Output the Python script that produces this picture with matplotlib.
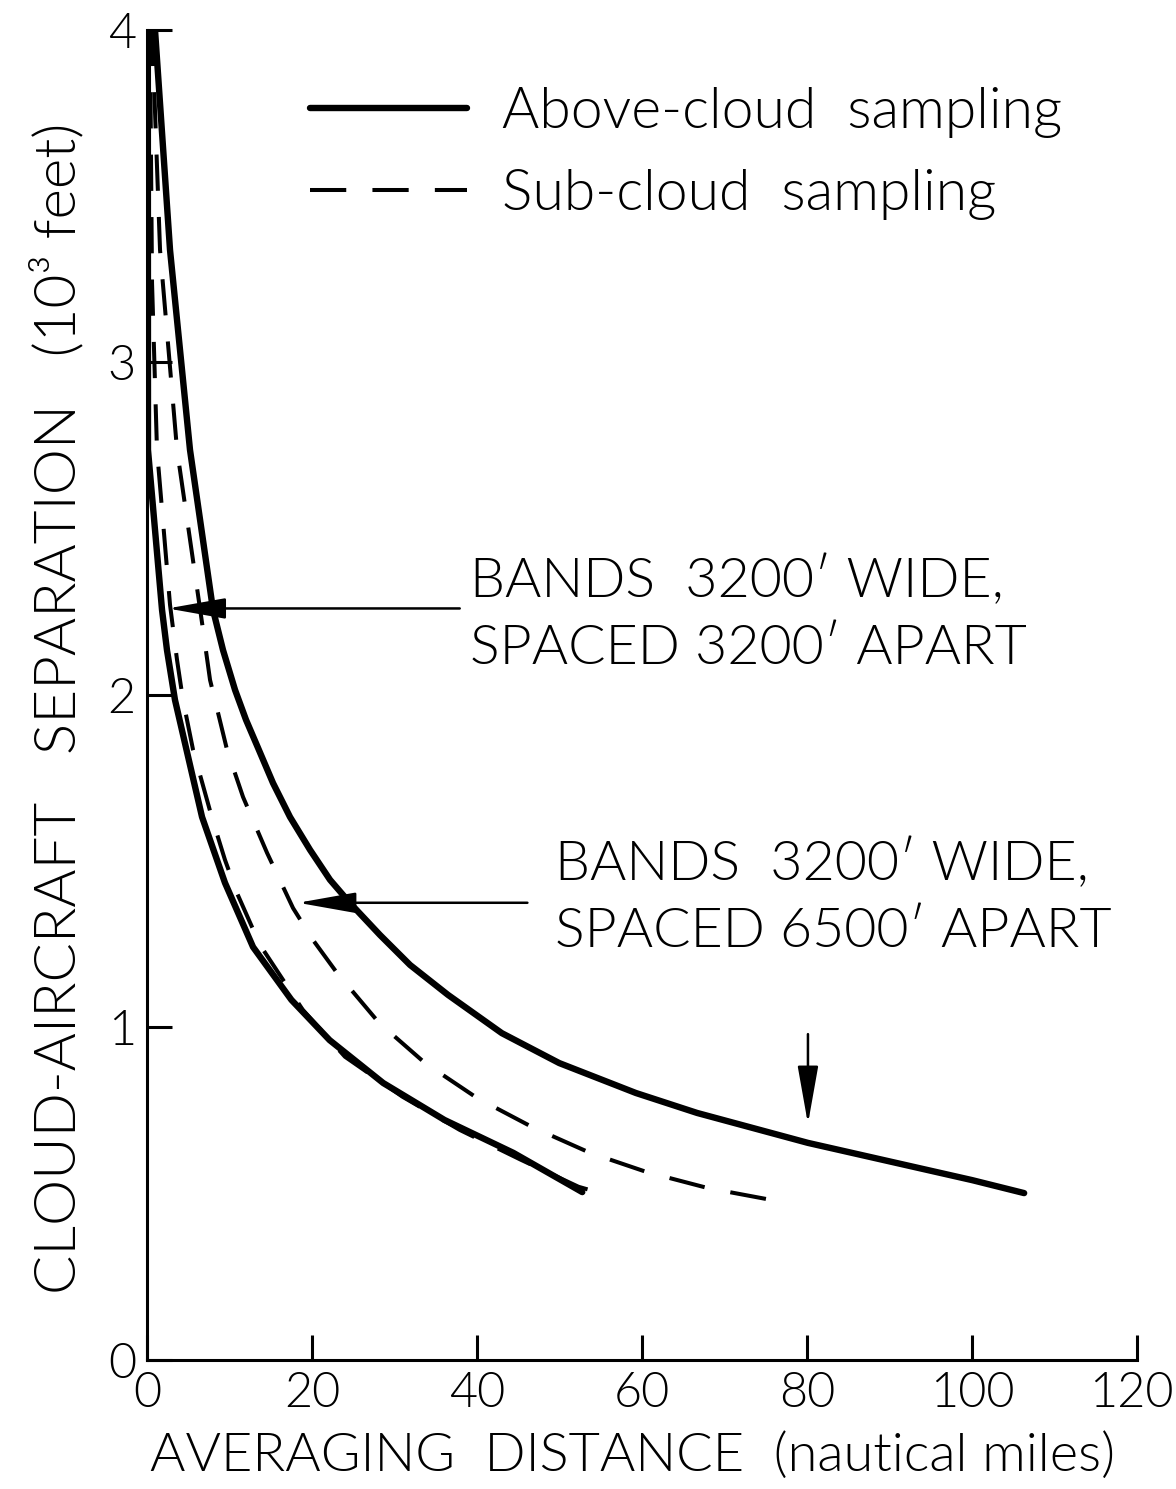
import matplotlib
matplotlib.use('Agg')
import matplotlib.pyplot as plt
from matplotlib.transforms import ScaledTranslation

# averaging distance (nautical miles) vs cloud-aircraft separation (10^3 ft)
above_6500_x = [0.97, 2.79, 5.21, 8.0, 9.21, 10.67, 12.0, 13.45, 15.27, 17.33, 19.76,
                22.18, 24.61, 28.24, 31.88, 36.48, 43.0, 49.96, 59.25, 66.67, 80.1,
                100.0, 106.3]
above_6500_y = [4.0, 3.338, 2.737, 2.256, 2.135, 2.015, 1.925, 1.841, 1.735, 1.633, 1.534,
                1.444, 1.374, 1.278, 1.188, 1.098, 0.983, 0.893, 0.803, 0.743, 0.653,
                0.541, 0.502]

sub_6500_x = [0.61, 1.58, 3.64, 6.67, 7.64, 9.7, 11.64, 14.55, 17.7, 20.12, 23.03,
              28.12, 33.7, 40.0, 46.73, 53.7, 60.6, 68.0, 75.76, 77.9]
sub_6500_y = [4.0, 3.338, 2.737, 2.217, 2.045, 1.835, 1.693, 1.525, 1.359, 1.263, 1.164,
              1.014, 0.893, 0.788, 0.70, 0.623, 0.565, 0.517, 0.481, 0.472]

above_3200_x = [0.1, 0.12, 1.82, 2.42, 3.39, 4.73, 6.67, 9.45, 12.85, 17.5, 22.13,
                28.63, 36.05, 44.4, 52.75]
above_3200_y = [4.0, 2.737, 2.256, 2.135, 1.985, 1.841, 1.633, 1.435, 1.242, 1.083, 0.962,
                0.833, 0.722, 0.623, 0.505]

sub_3200_x = [0.36, 0.61, 1.21, 2.79, 3.64, 4.36, 5.58, 6.67, 7.88, 9.45, 10.91,
              12.73, 13.94, 18.88, 23.99, 30.95, 37.9, 45.33, 52.3, 53.7]
sub_3200_y = [4.0, 3.239, 2.737, 2.271, 2.105, 1.985, 1.835, 1.738, 1.63, 1.504, 1.404,
              1.302, 1.239, 1.053, 0.912, 0.792, 0.692, 0.602, 0.521, 0.511]

x_ticks = [0, 20, 40, 60, 80, 100, 120]
y_ticks = [0, 1, 2, 3, 4]

FS = 40
plt.rcParams.update({
    'font.family': 'Lato', 'font.weight': 300, 'font.size': FS,
    'axes.labelweight': 300, 'axes.linewidth': 2.2,
})

fig = plt.figure(figsize=(11.76, 14.89), dpi=100)
ax = fig.add_axes([0.125, 0.0866, 0.842, 0.8934])

SOLID = dict(color='black', lw=4.6, solid_joinstyle='round', solid_capstyle='round')
DASH = dict(color='black', lw=2.9, dashes=(9, 6.5))

ax.plot(above_6500_x, above_6500_y, label='Above-cloud  sampling', **SOLID)
ax.plot(above_3200_x, above_3200_y, **SOLID)
ax.plot(sub_6500_x, sub_6500_y, label='Sub-cloud  sampling', **DASH)
ax.plot(sub_3200_x, sub_3200_y, **DASH)

ax.set_xlim(0, 120)
ax.set_ylim(0, 4)
ax.set_xticks(x_ticks)
ax.set_yticks(y_ticks)
for s in ('top', 'right'):
    ax.spines[s].set_visible(False)
ax.tick_params(direction='in', length=18, width=2.2, labelsize=35)
ax.tick_params(axis='x', pad=8)
ax.tick_params(axis='y', pad=8)
# last x label sits at the right edge of the figure: nudge it inwards a little
last = ax.get_xticklabels()[-1]
last.set_transform(last.get_transform() + ScaledTranslation(-6 / 100, 0, fig.dpi_scale_trans))

ax.set_xlabel('AVERAGING  DISTANCE  (nautical miles)', fontsize=39)
ax.set_ylabel('CLOUD-AIRCRAFT   SEPARATION   (10\u00b3 feet)', fontsize=42)
ax.xaxis.set_label_coords(0.49, -0.054)
ax.yaxis.set_label_coords(-0.062, 0.49)

leg = ax.legend(loc='upper left', bbox_to_anchor=(0.165, 0.957), frameon=False,
                handlelength=2.75, handletextpad=0.62, labelspacing=0.55,
                borderpad=0, borderaxespad=0, fontsize=41)

arrow = dict(arrowstyle='-|>,head_length=0.9,head_width=0.16', color='black',
             lw=1.8, shrinkA=0, shrinkB=0, mutation_scale=40)

ax.text(39.2, 2.24, 'BANDS  3200\u2032 WIDE,\nSPACED 3200\u2032 APART',
        ha='left', va='center', linespacing=1.42)
ax.annotate('', xy=(2.5, 2.26), xytext=(37.9, 2.26), arrowprops=arrow)

ax.text(49.5, 1.39, 'BANDS  3200\u2032 WIDE,\nSPACED 6500\u2032 APART',
        ha='left', va='center', linespacing=1.42)
ax.annotate('', xy=(18.3, 1.375), xytext=(46.1, 1.375), arrowprops=arrow)
ax.annotate('', xy=(80.1, 0.71), xytext=(80.1, 0.98), arrowprops=arrow)

fig.savefig('out.png', dpi=100, facecolor='white')
